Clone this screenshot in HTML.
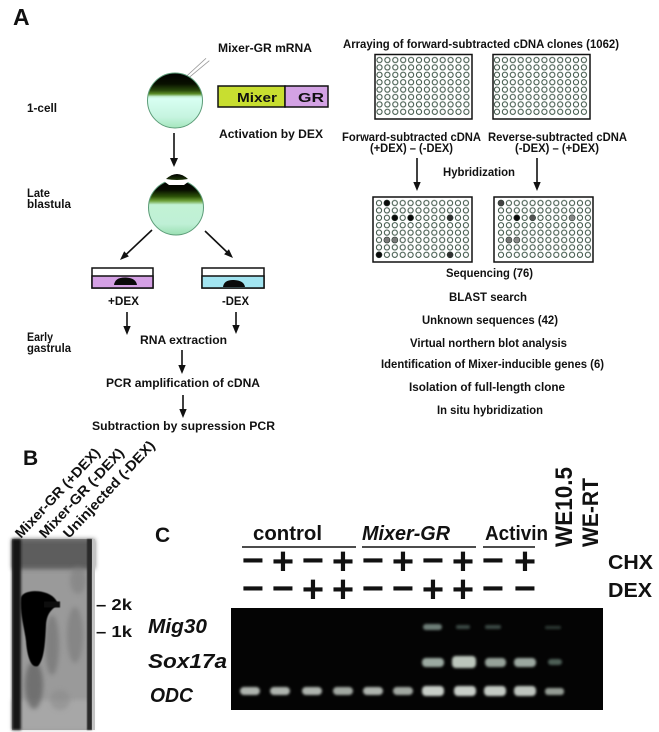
<!DOCTYPE html>
<html><head><meta charset="utf-8"><style>
html,body{margin:0;padding:0;background:#fff;}
svg{display:block;}
text{font-family:"Liberation Sans",Arial,sans-serif;font-weight:bold;fill:#111;}
.s{font-size:12px;}
.r{font-size:11.5px;}
.big{font-size:20px;}
</style></head><body>
<svg width="659" height="732" viewBox="0 0 659 732" xmlns="http://www.w3.org/2000/svg">
<defs>
<linearGradient id="egg1" x1="0" y1="0" x2="0" y2="1">
<stop offset="0" stop-color="#000"/><stop offset="0.2" stop-color="#081000"/>
<stop offset="0.32" stop-color="#2a4c0c"/><stop offset="0.38" stop-color="#5c8e28"/>
<stop offset="0.43" stop-color="#c4f0d4"/><stop offset="0.47" stop-color="#d8fff2"/>
<stop offset="0.8" stop-color="#c6f4e0"/><stop offset="1" stop-color="#a4e6bc"/>
</linearGradient>
<linearGradient id="egg2" x1="0" y1="0" x2="0" y2="1">
<stop offset="0" stop-color="#000"/><stop offset="0.18" stop-color="#060c00"/>
<stop offset="0.3" stop-color="#2c5208"/><stop offset="0.38" stop-color="#6ea23a"/>
<stop offset="0.45" stop-color="#c2f2d4"/><stop offset="0.8" stop-color="#bff0d6"/>
<stop offset="1" stop-color="#9adfb2"/>
</linearGradient>
<linearGradient id="cap" x1="0" y1="0" x2="0" y2="1">
<stop offset="0" stop-color="#000"/><stop offset="1" stop-color="#1e3808"/>
</linearGradient>
<pattern id="wells" x="0" y="0" width="7.9" height="7.4" patternUnits="userSpaceOnUse">
<circle cx="3.95" cy="3.7" r="2.6" fill="none" stroke="#3a5244" stroke-width="1"/>
</pattern>
<filter id="b1" x="-50%" y="-50%" width="200%" height="200%"><feGaussianBlur stdDeviation="1.2"/></filter>
<filter id="b2" x="-50%" y="-50%" width="200%" height="200%"><feGaussianBlur stdDeviation="2.5"/></filter>
<filter id="b05" x="-50%" y="-50%" width="200%" height="200%"><feGaussianBlur stdDeviation="0.6"/></filter>
</defs>

<!-- Panel A -->
<text x="13" y="25" style="font-size:23px">A</text>
<text class="s" x="218" y="52" textLength="94" lengthAdjust="spacingAndGlyphs">Mixer-GR mRNA</text>
<line x1="186.7" y1="76" x2="206" y2="58.3" stroke="#999" stroke-width="0.8"/>
<line x1="189.3" y1="77.3" x2="209.3" y2="60.7" stroke="#999" stroke-width="0.8"/>
<circle cx="175" cy="100.5" r="27.5" fill="url(#egg1)" stroke="#5c9c78" stroke-width="1"/>
<text class="s" x="27" y="112" textLength="30" lengthAdjust="spacingAndGlyphs">1-cell</text>
<rect x="218" y="86" width="67" height="21" fill="#c8de30" stroke="#111" stroke-width="1.5"/>
<rect x="285" y="86" width="43" height="21" fill="#d3a2e4" stroke="#111" stroke-width="1.5"/>
<text x="237" y="102" style="font-size:13px" textLength="40" lengthAdjust="spacingAndGlyphs">Mixer</text>
<text x="298" y="102" style="font-size:13px" textLength="26" lengthAdjust="spacingAndGlyphs">GR</text>
<text class="s" x="219" y="138" textLength="104" lengthAdjust="spacingAndGlyphs">Activation by DEX</text>

<!-- arrow 1-cell -> blastula -->
<line x1="174" y1="133" x2="174" y2="159" stroke="#111" stroke-width="1.6"/>
<polygon points="170,158 178,158 174,167" fill="#111"/>

<!-- blastula -->
<circle cx="176" cy="207.5" r="27.5" fill="url(#egg2)" stroke="#5c9c78" stroke-width="1"/>
<polygon points="163,177 190,177 188,182 184,185 169,185 165,182" fill="#fff"/>
<path d="M166,179 Q177,169 188,179 Q177,181 166,179 Z" fill="url(#cap)"/>
<text class="s" x="27" y="197" textLength="23" lengthAdjust="spacingAndGlyphs">Late</text>
<text class="s" x="27" y="208" textLength="44" lengthAdjust="spacingAndGlyphs">blastula</text>

<!-- diagonal arrows -->
<line x1="152" y1="230" x2="125" y2="255.5" stroke="#111" stroke-width="1.6"/>
<polygon points="128.9,256.4 124.2,251.3 120,260" fill="#111"/>
<line x1="205" y1="231" x2="229" y2="254" stroke="#111" stroke-width="1.6"/>
<polygon points="224.1,254.3 228.9,249.2 233,258" fill="#111"/>

<!-- dishes -->
<rect x="92" y="268" width="61" height="20" fill="#fff" stroke="#111" stroke-width="1.5"/>
<rect x="92" y="276" width="61" height="12" fill="#d4a0e4" stroke="#111" stroke-width="1.5"/>
<path d="M114,285 Q115,277 126,277.5 Q136,278 137,285 Z" fill="#0a0a0a"/>
<rect x="202" y="268" width="62" height="20" fill="#fff" stroke="#111" stroke-width="1.5"/>
<rect x="202" y="276" width="62" height="12" fill="#a2e4f0" stroke="#111" stroke-width="1.5"/>
<path d="M223,287 Q224,279.5 234,280 Q244,280.5 245,287 Z" fill="#0a0a0a"/>
<text class="s" x="108" y="305" textLength="31" lengthAdjust="spacingAndGlyphs">+DEX</text>
<text class="s" x="222" y="305" textLength="27" lengthAdjust="spacingAndGlyphs">-DEX</text>

<line x1="127" y1="312" x2="127" y2="327" stroke="#111" stroke-width="1.6"/>
<polygon points="123.3,326 130.7,326 127,335" fill="#111"/>
<line x1="236" y1="312" x2="236" y2="326" stroke="#111" stroke-width="1.6"/>
<polygon points="232.3,325 239.7,325 236,334" fill="#111"/>

<text class="s" x="27" y="341" textLength="26" lengthAdjust="spacingAndGlyphs">Early</text>
<text class="s" x="27" y="352" textLength="44" lengthAdjust="spacingAndGlyphs">gastrula</text>
<text class="s" x="140" y="344" textLength="87" lengthAdjust="spacingAndGlyphs">RNA extraction</text>
<line x1="182" y1="350" x2="182" y2="366" stroke="#111" stroke-width="1.6"/>
<polygon points="178.3,365 185.7,365 182,374" fill="#111"/>
<text class="s" x="106" y="387" textLength="154" lengthAdjust="spacingAndGlyphs">PCR amplification of cDNA</text>
<line x1="183" y1="395" x2="183" y2="410" stroke="#111" stroke-width="1.6"/>
<polygon points="179.3,409 186.7,409 183,418" fill="#111"/>
<text class="s" x="92" y="430" textLength="183" lengthAdjust="spacingAndGlyphs">Subtraction by supression PCR</text>

<!-- right column -->
<text class="r" x="343" y="48" textLength="276" lengthAdjust="spacingAndGlyphs">Arraying of forward-subtracted cDNA clones (1062)</text>
<rect x="375" y="54.5" width="97" height="64.5" fill="#fff" stroke="#111" stroke-width="1.5"/>
<rect x="493" y="54.5" width="97" height="64.5" fill="#fff" stroke="#111" stroke-width="1.5"/>
<g transform="translate(375.55,56.3)"><rect x="0" y="0" width="94.8" height="59.2" fill="url(#wells)"/></g>
<g transform="translate(493.05,56.3)"><rect x="0" y="0" width="94.8" height="59.2" fill="url(#wells)"/></g>

<text class="r" x="342" y="141" textLength="139" lengthAdjust="spacingAndGlyphs">Forward-subtracted cDNA</text>
<text class="r" x="370" y="152" textLength="83" lengthAdjust="spacingAndGlyphs">(+DEX) – (-DEX)</text>
<text class="r" x="488" y="141" textLength="139" lengthAdjust="spacingAndGlyphs">Reverse-subtracted cDNA</text>
<text class="r" x="515" y="152" textLength="84" lengthAdjust="spacingAndGlyphs">(-DEX) – (+DEX)</text>
<text class="r" x="443" y="176" textLength="72" lengthAdjust="spacingAndGlyphs">Hybridization</text>
<line x1="417" y1="158" x2="417" y2="183" stroke="#111" stroke-width="1.6"/>
<polygon points="413.3,182 420.7,182 417,191" fill="#111"/>
<line x1="537" y1="158" x2="537" y2="183" stroke="#111" stroke-width="1.6"/>
<polygon points="533.3,182 540.7,182 537,191" fill="#111"/>

<rect x="373" y="197" width="99" height="65" fill="#fff" stroke="#111" stroke-width="1.5"/>
<rect x="494" y="197" width="99" height="65" fill="#fff" stroke="#111" stroke-width="1.5"/>
<g transform="translate(375.05,199.3)"><rect x="0" y="0" width="94.8" height="59.2" fill="url(#wells)"/></g>
<g transform="translate(497.05,199.3)"><rect x="0" y="0" width="94.8" height="59.2" fill="url(#wells)"/></g>
<g stroke="#2a3a30" stroke-width="0.6">
<circle cx="386.9" cy="203" r="3" fill="#0a0a0a"/>
<circle cx="394.8" cy="217.8" r="3" fill="#0a0a0a"/>
<circle cx="410.6" cy="217.8" r="3" fill="#0a0a0a"/>
<circle cx="450.1" cy="217.8" r="3" fill="#333"/>
<circle cx="386.9" cy="240" r="3" fill="#7a7a7a"/>
<circle cx="394.8" cy="240" r="3" fill="#7a7a7a"/>
<circle cx="379" cy="254.8" r="3" fill="#0a0a0a"/>
<circle cx="450.1" cy="254.8" r="3" fill="#333"/>
<circle cx="501" cy="203" r="3" fill="#444"/>
<circle cx="516.8" cy="217.8" r="3" fill="#0a0a0a"/>
<circle cx="532.6" cy="217.8" r="3" fill="#555"/>
<circle cx="572.1" cy="217.8" r="3" fill="#8a8a8a"/>
<circle cx="508.9" cy="240" r="3" fill="#777"/>
<circle cx="516.8" cy="240" r="3" fill="#8a8a8a"/>
</g>

<text class="r" x="446" y="277" textLength="87" lengthAdjust="spacingAndGlyphs">Sequencing (76)</text>
<text class="r" x="449" y="301" textLength="78" lengthAdjust="spacingAndGlyphs">BLAST search</text>
<text class="r" x="422" y="324" textLength="136" lengthAdjust="spacingAndGlyphs">Unknown sequences (42)</text>
<text class="r" x="410" y="347" textLength="157" lengthAdjust="spacingAndGlyphs">Virtual northern blot analysis</text>
<text class="r" x="381" y="368" textLength="223" lengthAdjust="spacingAndGlyphs">Identification of Mixer-inducible genes (6)</text>
<text class="r" x="409" y="391" textLength="156" lengthAdjust="spacingAndGlyphs">Isolation of full-length clone</text>
<text class="r" x="437" y="414" textLength="106" lengthAdjust="spacingAndGlyphs">In situ hybridization</text>

<!-- Panel B -->
<text x="23" y="465" style="font-size:21px">B</text>
<g style="font-size:14px">
<text transform="translate(21,539) rotate(-47)" textLength="117" lengthAdjust="spacingAndGlyphs">Mixer-GR (+DEX)</text>
<text transform="translate(45,539) rotate(-47)" textLength="117" lengthAdjust="spacingAndGlyphs">Mixer-GR (-DEX)</text>
<text transform="translate(69,539) rotate(-47)" textLength="127" lengthAdjust="spacingAndGlyphs">Uninjected (-DEX)</text>
</g>
<g>
<rect x="12" y="539" width="83" height="191" fill="#9a9a9a"/>
<rect x="12" y="539" width="83" height="30" fill="#4a4a4a" opacity="0.75" filter="url(#b2)"/>
<rect x="12" y="700" width="80" height="30" fill="#b0b0b0" opacity="0.6" filter="url(#b2)"/>
<ellipse cx="52" cy="645" rx="7" ry="30" fill="#6e6e6e" opacity="0.6" filter="url(#b2)"/>
<ellipse cx="75" cy="635" rx="8" ry="28" fill="#767676" opacity="0.55" filter="url(#b2)"/>
<ellipse cx="34" cy="685" rx="9" ry="24" fill="#555" opacity="0.6" filter="url(#b2)"/>
<ellipse cx="60" cy="700" rx="10" ry="10" fill="#888" opacity="0.5" filter="url(#b2)"/>
<ellipse cx="78" cy="580" rx="8" ry="14" fill="#7a7a7a" opacity="0.5" filter="url(#b2)"/>
<rect x="12" y="539" width="9" height="191" fill="#141414" filter="url(#b1)"/>
<rect x="87" y="539" width="5" height="191" fill="#2a2a2a" filter="url(#b05)"/>
<rect x="92" y="539" width="3" height="191" fill="#c4c4c4"/>
<path d="M21,598 C22,589 48,588 56,600 L58,604 C52,610 47,612 46,625 C45,645 44,660 38,666 C31,669 27,656 26,641 C24,626 20,615 21,598 Z" fill="#050505" filter="url(#b05)"/>
<rect x="44" y="601.5" width="16" height="6" fill="#0c0c0c" filter="url(#b05)"/>
</g>
<text x="96" y="610" style="font-size:16px" textLength="36" lengthAdjust="spacingAndGlyphs">– 2k</text>
<text x="96" y="637" style="font-size:16px" textLength="36" lengthAdjust="spacingAndGlyphs">– 1k</text>

<!-- Panel C -->
<text x="155" y="542" style="font-size:21px">C</text>
<text class="big" x="253" y="540" textLength="69" lengthAdjust="spacingAndGlyphs">control</text>
<text class="big" x="362" y="540" textLength="88" lengthAdjust="spacingAndGlyphs" font-style="italic">Mixer-GR</text>
<text class="big" x="485" y="540" textLength="63" lengthAdjust="spacingAndGlyphs">Activin</text>
<line x1="242" y1="547" x2="356" y2="547" stroke="#111" stroke-width="1.5"/>
<line x1="362" y1="547" x2="476" y2="547" stroke="#111" stroke-width="1.5"/>
<line x1="483" y1="547" x2="535" y2="547" stroke="#111" stroke-width="1.5"/>
<text transform="translate(572,547) rotate(-90)" style="font-size:24px" textLength="80" lengthAdjust="spacingAndGlyphs">WE10.5</text>
<text transform="translate(598,547) rotate(-90)" style="font-size:22px" textLength="69" lengthAdjust="spacingAndGlyphs">WE-RT</text>

<g style="font-size:38px" text-anchor="middle">
<text x="253" y="573">−</text><text x="283" y="574">+</text>
<text x="313" y="573">−</text><text x="343" y="574">+</text>
<text x="373" y="573">−</text><text x="403" y="574">+</text>
<text x="433" y="573">−</text><text x="463" y="574">+</text>
<text x="493" y="573">−</text><text x="525" y="574">+</text>
<text x="253" y="601">−</text><text x="283" y="601">−</text>
<text x="313" y="602">+</text><text x="343" y="602">+</text>
<text x="373" y="601">−</text><text x="403" y="601">−</text>
<text x="433" y="602">+</text><text x="463" y="602">+</text>
<text x="493" y="601">−</text><text x="525" y="601">−</text>
</g>
<text class="big" x="608" y="569" textLength="45" lengthAdjust="spacingAndGlyphs">CHX</text>
<text class="big" x="608" y="597" textLength="44" lengthAdjust="spacingAndGlyphs">DEX</text>

<text class="big" x="148" y="633" textLength="59" lengthAdjust="spacingAndGlyphs" font-style="italic">Mig30</text>
<text class="big" x="148" y="668" textLength="79" lengthAdjust="spacingAndGlyphs" font-style="italic">Sox17a</text>
<text class="big" x="150" y="702" textLength="43" lengthAdjust="spacingAndGlyphs" font-style="italic">ODC</text>

<!-- gel -->
<rect x="231" y="608" width="372" height="102" fill="#040404"/>
<g filter="url(#b1)">
<rect x="240" y="687" width="20" height="8" rx="4" fill="#aeb4ae"/>
<rect x="270" y="687" width="20" height="8" rx="4" fill="#aeb4ae"/>
<rect x="302" y="687" width="20" height="8" rx="4" fill="#aeb4ae"/>
<rect x="333" y="687" width="20" height="8" rx="4" fill="#a2a8a2"/>
<rect x="363" y="687" width="20" height="8" rx="4" fill="#aeb4ae"/>
<rect x="393" y="687" width="20" height="8" rx="4" fill="#a2a8a2"/>
<rect x="422" y="686" width="22" height="10" rx="4" fill="#c8cec8"/>
<rect x="454" y="686" width="22" height="10" rx="4" fill="#c8cec8"/>
<rect x="484" y="686" width="22" height="10" rx="4" fill="#c4cac4"/>
<rect x="514" y="686" width="22" height="10" rx="4" fill="#bec4be"/>
<rect x="545" y="688" width="19" height="7" rx="3" fill="#949c94"/>
<rect x="422" y="658" width="22" height="9" rx="4" fill="#9caaa2"/>
<rect x="452" y="656" width="24" height="12" rx="4" fill="#bcc6bc"/>
<rect x="485" y="658" width="21" height="9" rx="4" fill="#96a29a"/>
<rect x="514" y="658" width="22" height="9" rx="4" fill="#9ca8a0"/>
<rect x="548" y="659" width="14" height="6" rx="3" fill="#4e5e56"/>
<rect x="423" y="624" width="19" height="6" rx="3" fill="#6e7e78"/>
<rect x="456" y="625" width="14" height="4" rx="2" fill="#3a4a44"/>
<rect x="485" y="625" width="16" height="4" rx="2" fill="#3a4a44"/>
<rect x="545" y="626" width="16" height="3" rx="1.5" fill="#2e3a36"/>
</g>
</svg>
</body></html>
